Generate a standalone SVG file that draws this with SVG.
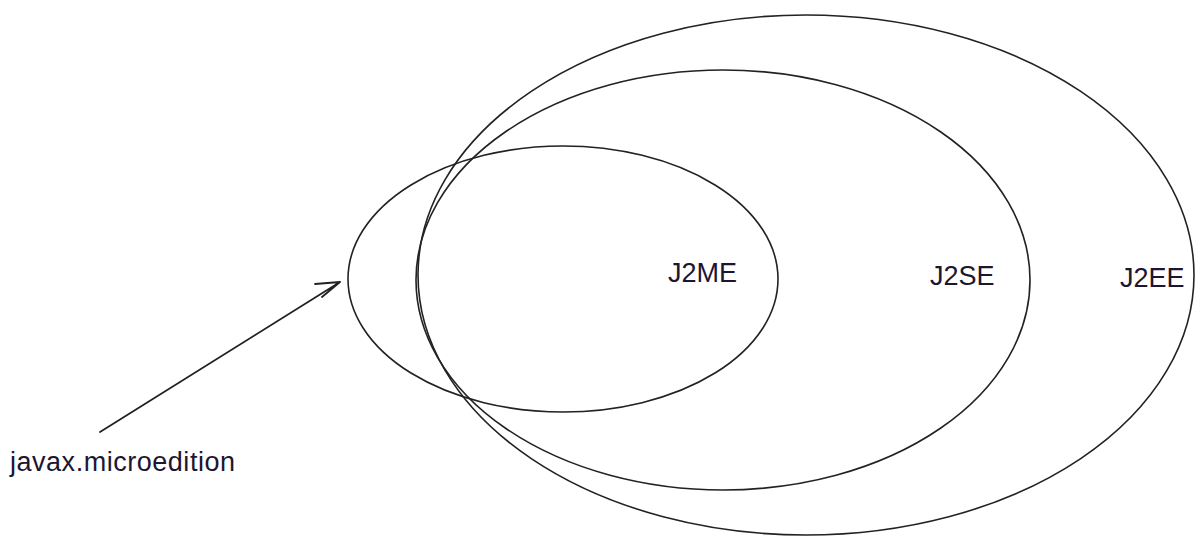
<svg xmlns="http://www.w3.org/2000/svg" width="1195" height="538" viewBox="0 0 1195 538">
<style>
.e{fill:none;stroke:#222;stroke-width:1.6}
.t{font-family:"Liberation Sans",Arial,sans-serif;font-size:27px;fill:#1c1630}
.c{fill:none;stroke:#222;stroke-width:1.8;stroke-linecap:round}
</style>
<rect width="1195" height="538" fill="#fff"/>
<g id="j2ee"><ellipse class="e" cx="806" cy="275" rx="388" ry="260"/><text class="t" x="1120" y="287">J2EE</text></g>
<g id="j2se"><ellipse class="e" cx="723" cy="280" rx="307" ry="210"/><text class="t" x="930" y="285">J2SE</text></g>
<g id="j2me"><ellipse class="e" cx="563" cy="279" rx="215" ry="133"/><text class="t" x="668" y="282" fill="#201848">J2ME</text></g>
<g id="label"><text class="t" x="10" y="471" font-size="25" textLength="225">javax.microedition</text></g>
<g id="connectors">
<path class="c" d="M100 432 L340 282 M340 282 L315 284 M340 282 L322 297"/>
</g>
</svg>
